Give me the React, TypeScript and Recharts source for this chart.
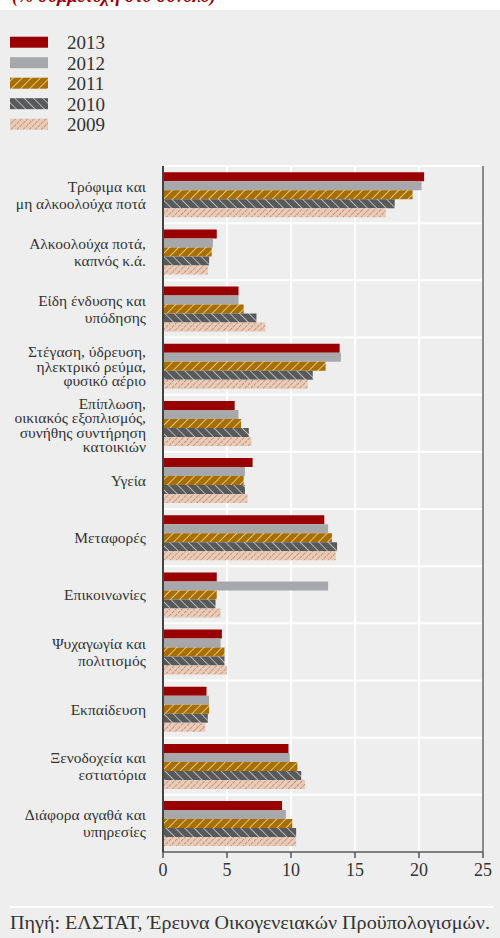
import React from "react";
import { BarChart, Bar, XAxis, YAxis, CartesianGrid, ReferenceLine } from "recharts";

const categories: string[] = [
  "Τρόφιμα και\nμη αλκοολούχα ποτά",
  "Αλκοολούχα ποτά,\nκαπνός κ.ά.",
  "Είδη ένδυσης και\nυπόδησης",
  "Στέγαση, ύδρευση,\nηλεκτρικό ρεύμα,\nφυσικό αέριο",
  "Επίπλωση,\nοικιακός εξοπλισμός,\nσυνήθης συντήρηση\nκατοικιών",
  "Υγεία",
  "Μεταφορές",
  "Επικοινωνίες",
  "Ψυχαγωγία και\nπολιτισμός",
  "Εκπαίδευση",
  "Ξενοδοχεία και\nεστιατόρια",
  "Διάφορα αγαθά και\nυπηρεσίες",
];

const v2013: number[] = [20.4, 4.2, 5.9, 13.8, 5.6, 7.0, 12.6, 4.2, 4.6, 3.4, 9.8, 9.3];
const v2012: number[] = [20.2, 3.9, 5.9, 13.9, 5.9, 6.4, 12.9, 12.9, 4.5, 3.6, 9.9, 9.6];
const v2011: number[] = [19.5, 3.8, 6.3, 12.7, 6.1, 6.3, 13.2, 4.2, 4.8, 3.6, 10.5, 10.1];
const v2010: number[] = [18.1, 3.6, 7.3, 11.7, 6.7, 6.4, 13.6, 4.1, 4.8, 3.5, 10.8, 10.4];
const v2009: number[] = [17.4, 3.5, 8.0, 11.3, 6.9, 6.6, 13.5, 4.5, 5.0, 3.3, 11.1, 10.4];

const seriesLabels: string[] = ["2013", "2012", "2011", "2010", "2009"];
const xTicks: number[] = [0, 5, 10, 15, 20, 25];

const titleText = "(% συμμετοχή στο σύνολο)";
const sourceText = "Πηγή: ΕΛΣΤΑΤ, Έρευνα Οικογενειακών Προϋπολογισμών.";

const seriesValues = [v2013, v2012, v2011, v2010, v2009];
const seriesFills = ["#990000", "#a7a8ab", "url(#p2011)", "url(#p2010)", "url(#p2009)"];

const data = categories.map((name, i) => {
  const row: Record<string, any> = { name };
  seriesLabels.forEach((s, k) => {
    row["y" + s] = seriesValues[k][i];
  });
  return row;
});

const FONT = "'Liberation Serif', serif";
const BG = "#eeeeee";

const YTick = (props: any) => {
  const { x, y, payload } = props;
  const lines: string[] = String(payload.value).split("\n");
  const lh = lines.length === 2 ? 17 : 14.5;
  const y0 = y - ((lines.length - 1) * lh) / 2 + (lines.length > 3 ? 2 : 0);
  return (
    <text x={x} y={y0} textAnchor="end" fontSize={15.5} fill="#333" fontFamily={FONT}>
      {lines.map((l, i) => (
        <tspan key={i} x={x} y={y0 + i * lh} dy="0.35em">
          {l}
        </tspan>
      ))}
    </text>
  );
};

const Patterns = () => (
  <svg width={0} height={0} style={{ position: "absolute" }}>
    <defs>
      <pattern id="p2011" patternUnits="userSpaceOnUse" width={6.4} height={6.4} patternTransform="rotate(45)">
        <rect width={6.4} height={6.4} fill="#a86e00" />
        <line x1={0} y1={0} x2={0} y2={6.4} stroke="#efd9a6" strokeWidth={1.6} />
      </pattern>
      <pattern id="p2010" patternUnits="userSpaceOnUse" width={6.6} height={6.6} patternTransform="rotate(-45)">
        <rect width={6.6} height={6.6} fill="#58595b" />
        <line x1={0} y1={0} x2={0} y2={6.6} stroke="#c9c9c9" strokeWidth={1.6} />
      </pattern>
      <pattern id="p2009" patternUnits="userSpaceOnUse" width={4.3} height={4.3} patternTransform="rotate(45)">
        <rect width={4.3} height={4.3} fill="#e6cdb8" />
        <line x1={0} y1={0} x2={0} y2={4.3} stroke="#c4504a" strokeWidth={1} strokeDasharray="2.5 1" />
      </pattern>
    </defs>
  </svg>
);

export default function App() {
  const n = categories.length;
  return (
    <div
      style={{
        position: "absolute",
        left: 0,
        top: 0,
        width: 500,
        height: 938,
        background: BG,
        overflow: "hidden",
        fontFamily: FONT,
      }}
    >
      <Patterns />
      {/* clipped title strip */}
      <svg width={500} height={10} style={{ position: "absolute", left: 0, top: 0 }}>
        <rect x={0} y={0} width={500} height={10} fill="#ffffff" />
        <text
          x={12}
          y={2}
          fontSize={18}
          fontStyle="italic"
          fontWeight="bold"
          fill="#990000"
          fontFamily={FONT}
          textLength={204}
          lengthAdjust="spacingAndGlyphs"
        >
          {titleText}
        </text>
      </svg>

      {/* legend */}
      <svg width={160} height={140} style={{ position: "absolute", left: 0, top: 0 }}>
        {seriesLabels.map((s, i) => (
          <g key={s}>
            <rect x={10} y={36.7 + i * 20.5} width={38} height={11} fill={seriesFills[i]} />
            <text x={67} y={49.3 + i * 20.5} fontSize={19} fill="#333" fontFamily={FONT}>
              {s}
            </text>
          </g>
        ))}
      </svg>

      <div style={{ position: "absolute", left: 0, top: 0 }}>
        <BarChart
          width={500}
          height={938}
          data={data}
          layout="vertical"
          margin={{ top: 166, right: 17, bottom: 46, left: 0 }}
          barCategoryGap="11%"
          barGap={0}
        >
          <CartesianGrid
            stroke="#ffffff"
            strokeWidth={2}
            fill="none"
            horizontalCoordinatesGenerator={(p: any) => {
              const off = p.offset;
              return Array.from({ length: n + 1 }, (_, i) => off.top + (i * off.height) / n);
            }}
          />
          <XAxis
            type="number"
            domain={[0, 25]}
            ticks={xTicks}
            interval={0}
            axisLine={{ stroke: "#555", strokeWidth: 1.5 }}
            tickLine={{ stroke: "#555", strokeWidth: 1.5 }}
            tickSize={6}
            tickMargin={5}
            height={40}
            tick={{ fontSize: 18, fill: "#333", fontFamily: FONT }}
          />
          <YAxis
            type="category"
            dataKey="name"
            width={163}
            axisLine={{ stroke: "#444", strokeWidth: 2 }}
            tickLine={false}
            tickSize={0}
            tickMargin={17}
            interval={0}
            tick={<YTick />}
          />
          <ReferenceLine x={25} stroke="#8a8a8a" strokeWidth={2} />
          {seriesLabels.map((s, i) => (
            <Bar key={s} dataKey={"y" + s} fill={seriesFills[i]} isAnimationActive={false} />
          ))}
        </BarChart>
      </div>

      {/* source */}
      <svg width={500} height={40} style={{ position: "absolute", left: 0, top: 898 }}>
        <rect x={10} y={8} width={483} height={2} fill="#ffffff" />
        <text
          x={10}
          y={31}
          fontSize={19}
          fill="#333"
          fontFamily={FONT}
          textLength={480}
          lengthAdjust="spacingAndGlyphs"
        >
          {sourceText}
        </text>
      </svg>
    </div>
  );
}
